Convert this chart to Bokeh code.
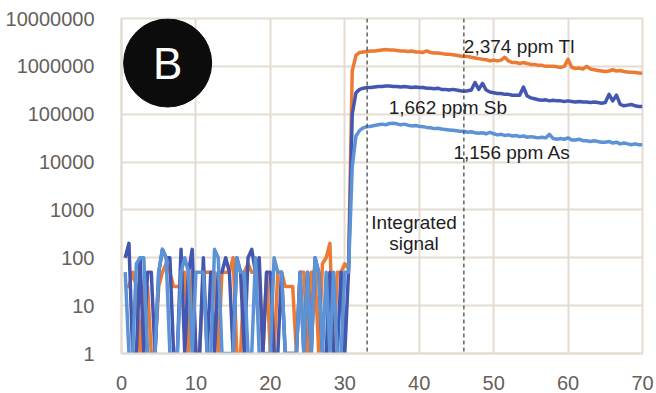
from bokeh.plotting import figure
from bokeh.models import Span, Label, FixedTicker, NumeralTickFormatter, Range1d
from bokeh.embed import file_html
from bokeh.resources import INLINE

# Acquisition time (s), one reading every 0.5 s
time_s = [round(0.5 * (i + 1), 1) for i in range(140)]

# Counts per second; zero counts are plotted at 1 on the log axis
tl_cps = [
    25, 25, 50, 25, 1, 25, 25, 1, 1, 25, 50, 75, 50, 25, 25, 25, 50, 1, 50, 1,
    1, 50, 50, 50, 50, 1, 50, 50, 50, 100, 1, 1, 50, 75, 50, 50, 50, 1, 50, 1,
    1, 50, 50, 25, 25, 25, 1, 50, 50, 1, 50, 50, 1, 75, 100, 200, 1, 50, 50, 75,
    60, 8.0e5, 1.7e6, 1.95e6, 2.0e6, 2.05e6, 2.1e6, 2.1e6, 2.15e6, 2.2e6,
    2.25e6, 2.2e6, 2.2e6, 2.15e6, 2.1e6, 2.1e6, 2.05e6, 2.1e6, 2.0e6, 2.0e6,
    1.95e6, 2.1e6, 1.95e6, 1.9e6, 1.9e6, 1.85e6, 1.8e6, 1.8e6, 1.75e6, 1.7e6,
    1.65e6, 1.6e6, 1.6e6, 1.55e6, 1.5e6, 1.45e6, 1.4e6, 1.38e6, 1.3e6, 1.35e6,
    1.3e6, 1.35e6, 1.55e6, 1.3e6, 1.2e6, 1.2e6, 1.15e6, 1.2e6, 1.15e6, 1.1e6,
    1.1e6, 1.05e6, 1.05e6, 1.0e6, 1.0e6, 1.0e6, 0.98e6, 0.95e6, 1.0e6, 1.4e6,
    0.95e6, 0.9e6, 0.92e6, 0.88e6, 1.0e6, 0.88e6, 0.85e6, 0.82e6, 0.8e6, 0.78e6,
    0.8e6, 0.85e6, 0.8e6, 0.82e6, 0.78e6, 0.76e6, 0.75e6, 0.74e6, 0.73e6, 0.72e6,
]
sb_cps = [
    100, 200, 1, 1, 100, 1, 50, 50, 1, 50, 150, 100, 100, 1, 1, 150, 1, 50, 150, 1,
    1, 100, 1, 50, 1, 50, 50, 100, 50, 1, 100, 50, 1, 100, 150, 50, 100, 1, 50, 50,
    1, 1, 50, 1, 1, 1, 1, 50, 1, 50, 1, 100, 50, 1, 1, 50, 1, 1, 50, 1,
    50, 1.0e5, 2.8e5, 3.3e5, 3.5e5, 3.6e5, 3.6e5, 3.7e5, 3.8e5, 3.8e5,
    3.9e5, 3.9e5, 3.8e5, 3.8e5, 3.7e5, 3.8e5, 3.7e5, 3.6e5, 3.7e5, 3.6e5,
    3.6e5, 3.5e5, 3.5e5, 3.4e5, 3.5e5, 3.3e5, 3.3e5, 3.2e5, 3.3e5, 3.2e5,
    3.1e5, 3.0e5, 3.1e5, 3.2e5, 4.6e5, 3.3e5, 4.4e5, 3.2e5, 2.9e5, 2.8e5,
    2.7e5, 2.7e5, 2.6e5, 2.6e5, 2.5e5, 2.5e5, 2.5e5, 3.7e5, 2.4e5, 2.2e5,
    2.1e5, 2.0e5, 1.95e5, 2.0e5, 1.9e5, 1.95e5, 1.9e5, 1.9e5, 1.85e5, 1.9e5,
    1.85e5, 1.8e5, 1.85e5, 1.8e5, 1.8e5, 1.75e5, 1.8e5, 1.75e5, 1.7e5, 1.75e5,
    2.6e5, 1.9e5, 2.5e5, 1.6e5, 1.5e5, 1.55e5, 1.6e5, 1.5e5, 1.45e5, 1.45e5,
]
as_cps = [
    50, 1, 1, 75, 100, 100, 1, 1, 1, 50, 150, 100, 1, 1, 1, 50, 100, 50, 1, 50,
    50, 50, 1, 1, 150, 100, 1, 1, 1, 1, 100, 50, 50, 1, 1, 100, 1, 1, 1, 1,
    100, 50, 50, 1, 1, 1, 1, 50, 1, 50, 1, 100, 50, 1, 50, 1, 50, 1, 1, 50,
    50, 8.0e3, 3.5e4, 4.6e4, 5.2e4, 5.5e4, 5.6e4, 5.8e4, 6.0e4, 6.2e4,
    6.0e4, 6.4e4, 6.5e4, 6.3e4, 6.0e4, 6.2e4, 5.9e4, 5.7e4, 5.8e4, 5.6e4,
    5.5e4, 5.3e4, 5.2e4, 5.0e4, 5.1e4, 4.9e4, 4.8e4, 4.7e4, 4.6e4, 4.5e4,
    4.4e4, 4.4e4, 4.2e4, 4.3e4, 4.1e4, 4.0e4, 4.1e4, 3.9e4, 4.2e4, 3.9e4,
    3.7e4, 3.8e4, 3.6e4, 3.7e4, 3.5e4, 3.6e4, 3.4e4, 3.5e4, 3.3e4, 3.4e4,
    3.3e4, 3.2e4, 3.3e4, 3.2e4, 3.8e4, 3.1e4, 3.0e4, 3.1e4, 3.0e4, 3.2e4,
    2.9e4, 2.9e4, 3.0e4, 2.8e4, 2.8e4, 2.7e4, 2.8e4, 2.7e4, 2.6e4, 2.6e4,
    2.7e4, 2.5e4, 2.6e4, 2.4e4, 2.5e4, 2.4e4, 2.3e4, 2.4e4, 2.3e4, 2.3e4,
]

x_ticks = [0, 10, 20, 30, 40, 50, 60, 70]
y_ticks = [1, 10, 100, 1000, 10000, 100000, 1000000, 10000000]
window_start, window_end = 33, 46

FONT = "Liberation Sans"
GRID = "#e4dbd3"
TICK_TEXT = "#665f5a"

p = figure(
    width=656, height=393, y_axis_type="log",
    x_range=Range1d(0, 70), y_range=Range1d(1, 1e7),
    output_backend="svg", toolbar_location=None,
    min_border_left=121, min_border_right=14,
    min_border_top=18, min_border_bottom=40,
)
p.background_fill_color = "white"
p.border_fill_color = "white"
p.outline_line_color = GRID
p.outline_line_width = 2

for ax in (p.xaxis, p.yaxis):
    ax.axis_line_color = GRID
    ax.axis_line_width = 2
    ax.major_tick_line_color = None
    ax.minor_tick_line_color = None
    ax.major_label_text_font = FONT
    ax.major_label_text_font_size = "20px"
    ax.major_label_text_color = TICK_TEXT

p.xaxis.ticker = FixedTicker(ticks=x_ticks)
p.yaxis.ticker = FixedTicker(ticks=y_ticks)
p.yaxis.formatter = NumeralTickFormatter(format="0")
p.xaxis.major_label_standoff = 16
p.yaxis.major_label_standoff = 21

p.xgrid.ticker = FixedTicker(ticks=x_ticks)
p.ygrid.ticker = FixedTicker(ticks=y_ticks)
p.grid.grid_line_color = GRID
p.grid.grid_line_width = 2

# Integration window
for t in (window_start, window_end):
    p.add_layout(Span(location=t, dimension="height", line_color="#4a4a4a",
                      line_width=1.3, line_dash="4 3"))

# Isotope traces
p.line(time_s, tl_cps, line_color="#ec7a33", line_width=3.5, line_join="round")
p.line(time_s, sb_cps, line_color="#4457b0", line_width=3.5, line_join="round")
p.line(time_s, as_cps, line_color="#5b93d6", line_width=3.5, line_join="round")

def note(x, y, text, align="left"):
    p.add_layout(Label(x=x, y=y, text=text, text_font=FONT, text_font_size="19px",
                       text_color="#1e1e1e", text_align=align,
                       text_baseline="middle"))

note(46.0, 10 ** 6.41, "2,374 ppm Tl")
note(35.9, 10 ** 5.14, "1,662 ppm Sb")
note(44.6, 10 ** 4.20, "1,156 ppm As")
note(39.3, 10 ** 2.74, "Integrated", align="center")
note(39.3, 10 ** 2.30, "signal", align="center")

# Panel badge
p.scatter(x=[6.2], y=[10 ** 6.07], size=88, marker="circle",
          fill_color="#0c0c0c", line_color="#0c0c0c")
p.add_layout(Label(x=6.2, y=10 ** 6.07, text="B", text_font=FONT,
                   text_font_size="44px", text_color="white",
                   text_align="center", text_baseline="middle"))

open("out.html", "w").write(file_html(p, INLINE))
